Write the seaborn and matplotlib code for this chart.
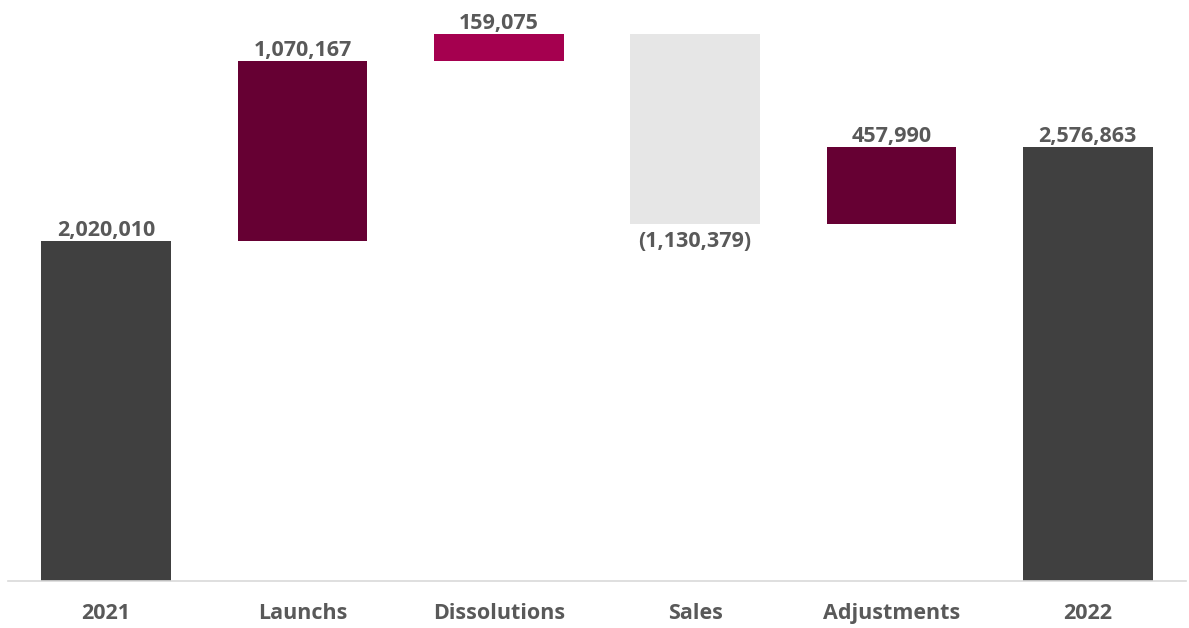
import matplotlib
matplotlib.use("Agg")
import matplotlib.pyplot as plt
import seaborn as sns
import pandas as pd

# Waterfall data
categories = ["2021", "Launchs", "Dissolutions", "Sales", "Adjustments", "2022"]
changes = [2020010, 1070167, 159075, -1130379, 457990, 2576863]
is_total = [True, False, False, False, False, True]
bar_colors = ["#404040", "#660033", "#A5004F", "#E6E6E6", "#660033", "#404040"]

# Floating bar geometry from the running total
bottoms, heights = [], []
running = 0
for val, total in zip(changes, is_total):
    if total:
        bottoms.append(0)
        heights.append(val)
        running = val
    else:
        start = running
        running += val
        bottoms.append(min(start, running))
        heights.append(abs(val))

df = pd.DataFrame({"category": categories, "height": heights})

sns.set_theme(style="white")
plt.rcParams["font.family"] = ["Open Sans", "DejaVu Sans"]

fig = plt.figure(figsize=(11.89, 6.28), dpi=100)
ax = fig.add_axes([8 / 1189, 47 / 628, 1178 / 1189, 581 / 628])

sns.barplot(data=df, x="category", y="height", hue="category",
            palette=bar_colors, order=categories, hue_order=categories,
            width=0.66, dodge=False, legend=False, ax=ax,
            saturation=1, linewidth=0)

for patch, b in zip(ax.patches, bottoms):
    patch.set_y(b)

ax.set_xlim(-0.5, 5.5)
ax.set_ylim(0, 3.452e6)

text_color = "#595959"
for i, (val, b, h) in enumerate(zip(changes, bottoms, heights)):
    if val < 0:
        ax.annotate(f"({abs(val):,})", xy=(i, b), xytext=(0, -5),
                    textcoords="offset points", ha="center", va="top",
                    fontsize=15.5, fontweight="bold", color=text_color)
    else:
        ax.annotate(f"{val:,}", xy=(i, b + h), xytext=(0, 0),
                    textcoords="offset points", ha="center", va="bottom",
                    fontsize=15.5, fontweight="bold", color=text_color)

ax.set_xlabel("")
ax.set_ylabel("")
ax.set_yticks([])
ax.tick_params(axis="x", length=0, pad=16)
for lbl in ax.get_xticklabels():
    lbl.set_fontsize(15.5)
    lbl.set_fontweight("bold")
    lbl.set_color(text_color)

for side in ["top", "left", "right"]:
    ax.spines[side].set_visible(False)
ax.spines["bottom"].set_color("#D9D9D9")
ax.spines["bottom"].set_linewidth(1.2)

fig.savefig("out.png", dpi=100, facecolor="white")
